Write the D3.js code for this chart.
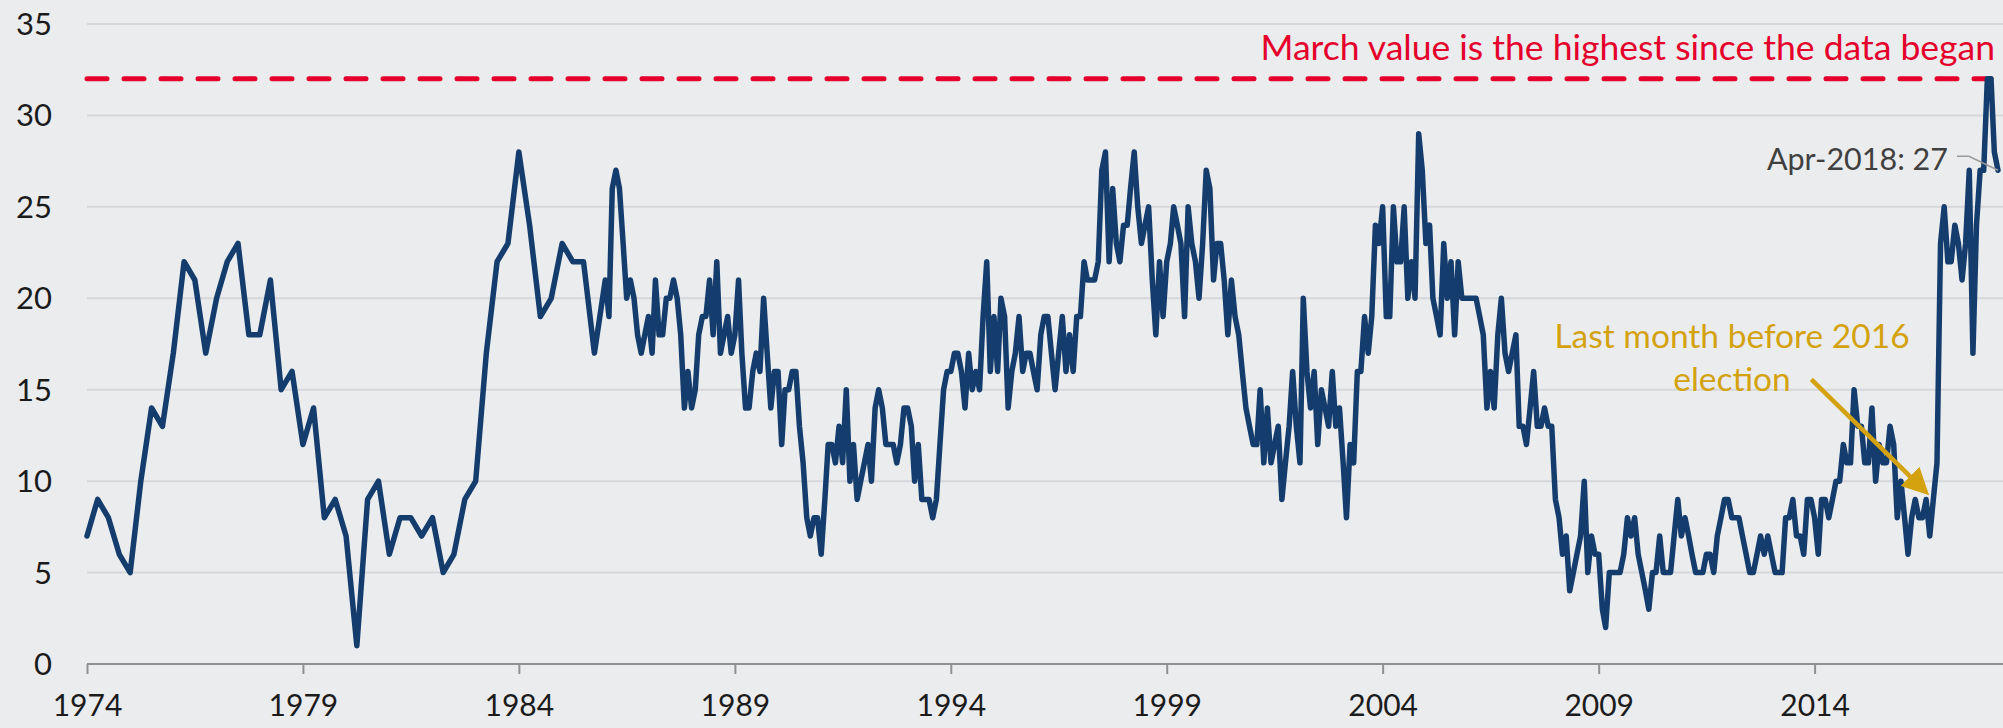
<!DOCTYPE html>
<html>
<head>
<meta charset="utf-8">
<script src="https://cdn.jsdelivr.net/npm/d3@7"></script>
<style>
  body { margin: 0; background: #ebecee; }
  svg { display: block; font-family: Lato, "Noto Sans", sans-serif; }
</style>
</head>
<body>
<div id="container"></div>
<script>
// quarterly readings 1974Q1 - 1985Q4
const quarterlyStart = 1974;
const quarterlyValues = [
  7, 9, 8, 6, 5, 10, 14, 13, 17, 22, 21, 17,
  20, 22, 23, 18, 18, 21, 15, 16, 12, 14, 8, 9,
  7, 1, 9, 10, 6, 8, 8, 7, 8, 5, 6, 9,
  10, 17, 22, 23, 28, 24, 19, 20, 23, 22, 22, 17
];

// monthly readings Jan 1986 - Apr 2018
const monthlyStart = 1986;
const monthlyValues = [
  21, 19, 26, 27, 26, 23, 20, 21, 20, 18, 17, 18,
  19, 17, 21, 18, 18, 20, 20, 21, 20, 18, 14, 16,
  14, 15, 18, 19, 19, 21, 18, 22, 17, 18, 19, 17,
  18, 21, 17, 14, 14, 16, 17, 16, 20, 17, 14, 16,
  16, 12, 15, 15, 16, 16, 13, 11, 8, 7, 8, 8,
  6, 9, 12, 12, 11, 13, 11, 15, 10, 12, 9, 10,
  11, 12, 10, 14, 15, 14, 12, 12, 12, 11, 12, 14,
  14, 13, 10, 12, 9, 9, 9, 8, 9, 12, 15, 16,
  16, 17, 17, 16, 14, 17, 15, 16, 15, 19, 22, 16,
  19, 16, 20, 19, 14, 16, 17, 19, 16, 17, 17, 16,
  15, 18, 19, 19, 17, 15, 17, 19, 16, 18, 16, 19,
  19, 22, 21, 21, 21, 22, 27, 28, 22, 26, 23, 22,
  24, 24, 26, 28, 25, 23, 24, 25, 21, 18, 22, 19,
  22, 23, 25, 24, 23, 19, 25, 23, 22, 20, 23, 27,
  26, 21, 23, 23, 21, 18, 21, 19, 18, 16, 14, 13,
  12, 12, 15, 11, 14, 11, 12, 13, 9, 11, 13, 16,
  13, 11, 20, 16, 14, 16, 12, 15, 14, 13, 16, 13,
  14, 11, 8, 12, 11, 16, 16, 19, 17, 19, 24, 23,
  25, 19, 19, 25, 22, 22, 25, 20, 22, 20, 29, 27,
  23, 24, 20, 19, 18, 23, 20, 22, 18, 22, 20, 20,
  20, 20, 20, 19, 18, 14, 16, 14, 18, 20, 17, 16,
  17, 18, 13, 13, 12, 14, 16, 13, 13, 14, 13, 13,
  9, 8, 6, 7, 4, 5, 6, 7, 10, 5, 7, 6,
  6, 3, 2, 5, 5, 5, 5, 6, 8, 7, 8, 6,
  5, 4, 3, 5, 5, 7, 5, 5, 5, 7, 9, 7,
  8, 7, 6, 5, 5, 5, 6, 6, 5, 7, 8, 9,
  9, 8, 8, 8, 7, 6, 5, 5, 6, 7, 6, 7,
  6, 5, 5, 5, 8, 8, 9, 7, 7, 6, 9, 9,
  8, 6, 9, 9, 8, 9, 10, 10, 12, 11, 11, 15,
  13, 13, 11, 11, 14, 10, 12, 11, 11, 13, 12, 8,
  10, 8, 6, 8, 9, 8, 8, 9, 7, 9, 11, 23,
  25, 22, 22, 24, 23, 21, 23, 27, 17, 24, 27, 27,
  32, 32, 28, 27
];

const xTickYears = [1974, 1979, 1984, 1989, 1994, 1999, 2004, 2009, 2014];
const yTicks = [0, 5, 10, 15, 20, 25, 30, 35];
const recordValue = 32;
const recordText = "March value is the highest since the data began";
const lastLabel = "Apr-2018: 27";
const electionMonth = new Date(2016, 9, 1);
const electionText = ["Last month before 2016", "election"];

const width = 2003, height = 728;
const colors = {
  bg: "#ebecee", grid: "#d6d7da", axis: "#8f9092", line: "#143d6d",
  red: "#e4002b", gold: "#d4a20f", note: "#404040", text: "#1b1b1b"
};

const series = [];
quarterlyValues.forEach((v, i) => {
  series.push({ date: new Date(quarterlyStart + Math.floor(i / 4), (i % 4) * 3, 1), value: v });
});
monthlyValues.forEach((v, i) => {
  series.push({ date: new Date(monthlyStart, i, 1), value: v });
});
const last = series[series.length - 1];

const x = d3.scaleTime()
  .domain([new Date(1974, 0, 1), last.date])
  .range([87, 1998]);
const y = d3.scaleLinear().domain([0, 35]).range([664, 24]);

const svg = d3.select("#container").append("svg")
  .attr("width", width)
  .attr("height", height);

svg.append("rect").attr("width", width).attr("height", height).attr("fill", colors.bg);

// gridlines
svg.append("g").selectAll("line")
  .data(yTicks.filter(d => d > 0))
  .join("line")
  .attr("x1", x.range()[0]).attr("x2", width)
  .attr("y1", d => y(d)).attr("y2", d => y(d))
  .attr("stroke", colors.grid).attr("stroke-width", 2);

// y labels
svg.append("g").selectAll("text")
  .data(yTicks)
  .join("text")
  .attr("x", 52).attr("y", d => y(d) + 11)
  .attr("text-anchor", "end")
  .attr("font-size", 31).attr("fill", colors.text)
  .text(d => d);

// x axis
const xAxis = d3.axisBottom(x)
  .tickValues(xTickYears.map(yr => new Date(yr, 0, 1)))
  .tickFormat(d3.timeFormat("%Y"))
  .tickSize(10)
  .tickPadding(21);

const gx = svg.append("g").attr("transform", `translate(0,${y(0)})`).call(xAxis);
gx.select(".domain").remove();
gx.insert("line", ":first-child")
  .attr("x1", x.range()[0]).attr("x2", width)
  .attr("stroke", colors.axis).attr("stroke-width", 2);
gx.selectAll(".tick line").attr("stroke", colors.axis).attr("stroke-width", 2);
gx.selectAll(".tick text")
  .attr("font-size", 30).attr("font-family", "Lato, 'Noto Sans', sans-serif")
  .attr("fill", colors.text);

// record line
svg.append("line")
  .attr("x1", x.range()[0]).attr("x2", 1991)
  .attr("y1", y(recordValue)).attr("y2", y(recordValue))
  .attr("stroke", colors.red).attr("stroke-width", 5)
  .attr("stroke-dasharray", "20 17")
  .attr("stroke-linecap", "round");

svg.append("text")
  .attr("x", 1995).attr("y", y(recordValue) - 19)
  .attr("text-anchor", "end")
  .attr("font-size", 35.5).attr("fill", colors.red)
  .text(recordText);

// main line
const line = d3.line().x(d => x(d.date)).y(d => y(d.value));
svg.append("path")
  .datum(series)
  .attr("d", line)
  .attr("fill", "none")
  .attr("stroke", colors.line)
  .attr("stroke-width", 5.5)
  .attr("stroke-linejoin", "round")
  .attr("stroke-linecap", "round");

// last value label
const lx = x(last.date), ly = y(last.value);
svg.append("path")
  .attr("d", `M${lx - 41},${ly - 14} L${lx - 29},${ly - 14} L${lx},${ly}`)
  .attr("fill", "none").attr("stroke", "#9a9a9a").attr("stroke-width", 1.5);
svg.append("text")
  .attr("x", lx - 50).attr("y", ly)
  .attr("text-anchor", "end")
  .attr("font-size", 30.5).attr("fill", colors.note)
  .text(lastLabel);

// election note
const ex = x(electionMonth), ey = y(series.find(d => +d.date === +electionMonth).value);
svg.append("defs").append("marker")
  .attr("id", "arrowhead")
  .attr("viewBox", "0 0 10 10")
  .attr("refX", 8).attr("refY", 5)
  .attr("markerWidth", 6).attr("markerHeight", 6)
  .attr("orient", "auto")
  .append("path").attr("d", "M0,0 L10,5 L0,10 z").attr("fill", colors.gold);

svg.append("line")
  .attr("x1", ex - 122).attr("y1", ey - 120)
  .attr("x2", ex - 8).attr("y2", ey - 8)
  .attr("stroke", colors.gold).attr("stroke-width", 4.5)
  .attr("marker-end", "url(#arrowhead)");

svg.append("text")
  .attr("x", 1732).attr("y", 348)
  .attr("text-anchor", "middle")
  .attr("font-size", 33.5).attr("fill", colors.gold)
  .selectAll("tspan")
  .data(electionText)
  .join("tspan")
  .attr("x", 1732)
  .attr("dy", (d, i) => i === 0 ? 0 : 43)
  .text(d => d);
</script>
</body>
</html>
